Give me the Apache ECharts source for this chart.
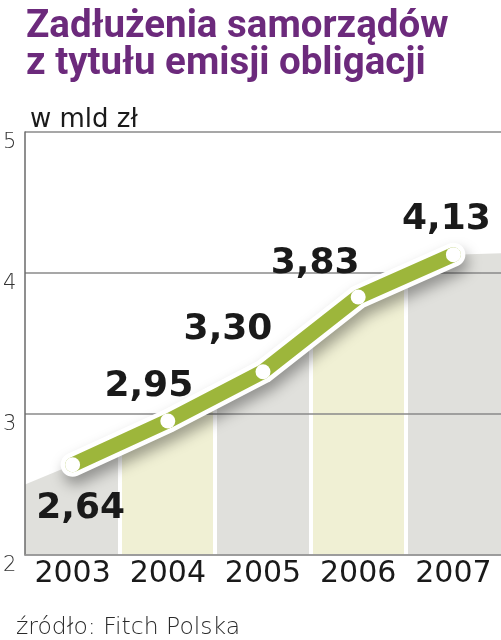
<!DOCTYPE html>
<html><head><meta charset="utf-8">
<script src="https://cdn.jsdelivr.net/npm/echarts@6/dist/echarts.min.js"></script>
<style>html,body{margin:0;padding:0;background:#fff}#c{width:501px;height:640px}</style>
</head><body><div id="c"></div>
<script>
// ---- data ----
const years = ['2003', '2004', '2005', '2006', '2007'];
const values = [2.64, 2.95, 3.30, 3.83, 4.13];
const valueLabels = ['2,64', '2,95', '3,30', '3,83', '4,13'];
const yMin = 2, yMax = 5, yStep = 1;
const bandEdgeValues = [2.50, 4.14]; // height of background band at left / right plot edge
const titleText = 'Zadłużenia samorządów\nz tytułu emisji obligacji';
const unitText = 'w mld zł';
const sourceText = 'źródło: Fitch Polska';

// ---- layout / style config ----
const labelOffsets = [[8, 44], [-19, -34], [-35, -42], [-43, -33], [-7, -35]];
const GRAY = '#e0e0dc', YELLOW = '#f0f0d4', GREEN = '#9db63b', PURPLE = '#6c2a7c';

const pieces = [];
years.forEach((y, i) => {
  const lo = i === 0 ? -1 : i - 0.48;
  const hi = i === years.length - 1 ? years.length : i + 0.48;
  pieces.push({ gte: lo, lt: hi, color: i % 2 ? YELLOW : GRAY });
  if (i < years.length - 1) pieces.push({ gte: i + 0.48, lt: i + 0.52, color: '#ffffff' });
});

const bandData = [[-0.5, bandEdgeValues[0]]]
  .concat(values.map((v, i) => [i, v]))
  .concat([[years.length - 0.5, bandEdgeValues[1]]]);

const lineData = values.map((v, i) => ({
  value: v,
  label: { offset: labelOffsets[i], formatter: valueLabels[i] }
}));

const chart = echarts.init(document.getElementById('c'), null, { renderer: 'canvas' });
chart.setOption({
  animation: false,
  backgroundColor: '#ffffff',
  title: [
    { text: titleText, left: 21, top: 4,
      textStyle: { fontFamily: 'Roboto', fontWeight: 'bold', fontSize: 38.5, lineHeight: 37, color: PURPLE } },
    { text: unitText, left: 25, top: 102,
      textStyle: { fontFamily: 'DejaVu Sans', fontWeight: 'normal', fontSize: 26, color: '#1a1a1a' } },
    { text: sourceText, left: 11, top: 611,
      textStyle: { fontFamily: 'DejaVu Sans', fontWeight: 200, fontSize: 23.5, color: '#2a2a2a' } }
  ],
  grid: { left: 22, right: 0, top: 132, bottom: 85, containLabel: false },
  visualMap: { type: 'piecewise', show: false, dimension: 0, seriesIndex: 0, pieces: pieces },
  xAxis: [
    { type: 'category', data: years, boundaryGap: true, z: 3,
      axisLine: { show: true, onZero: false, lineStyle: { color: '#9a9a9a', width: 1.5 } },
      axisTick: { show: false },
      axisLabel: { interval: 0, hideOverlap: false, fontFamily: 'DejaVu Sans', fontSize: 30, color: '#1a1a1a', margin: 4 },
      splitLine: { show: false } },
    { type: 'value', min: -0.5, max: years.length - 0.5, show: false }
  ],
  yAxis: {
    type: 'value', min: yMin, max: yMax, interval: yStep, z: 3,
    axisLine: { show: true, onZero: false, lineStyle: { color: '#6a6a6a', width: 1.5 } },
    axisTick: { show: false },
    axisLabel: { fontFamily: 'DejaVu Sans', fontWeight: 200, fontSize: 21, color: '#333',
      align: 'left', verticalAlign: 'top', margin: 22 },
    splitLine: { show: true, lineStyle: { color: '#8a8a8a', width: 1.5 } }
  },
  series: [
    { type: 'line', xAxisIndex: 1, data: bandData, symbol: 'none', z: 1,
      lineStyle: { width: 0, opacity: 0 }, areaStyle: { opacity: 1 }, silent: true },
    { type: 'line', xAxisIndex: 0, data: values, symbol: 'none', z: 4,
      lineStyle: { color: '#ffffff', width: 24, cap: 'round', join: 'round',
        shadowColor: 'rgba(0,0,0,0.35)', shadowBlur: 14, shadowOffsetX: 3, shadowOffsetY: 8 } },
    { type: 'line', xAxisIndex: 0, data: lineData, z: 5,
      symbol: 'circle', symbolSize: 15, itemStyle: { color: '#ffffff', borderWidth: 0 },
      lineStyle: { color: GREEN, width: 15, cap: 'round', join: 'round' },
      label: { show: true, position: 'inside', align: 'center', verticalAlign: 'middle',
        fontFamily: 'DejaVu Sans', fontWeight: 'bold', fontSize: 36, color: '#1a1a1a' } }
  ]
});
</script>
</body></html>
